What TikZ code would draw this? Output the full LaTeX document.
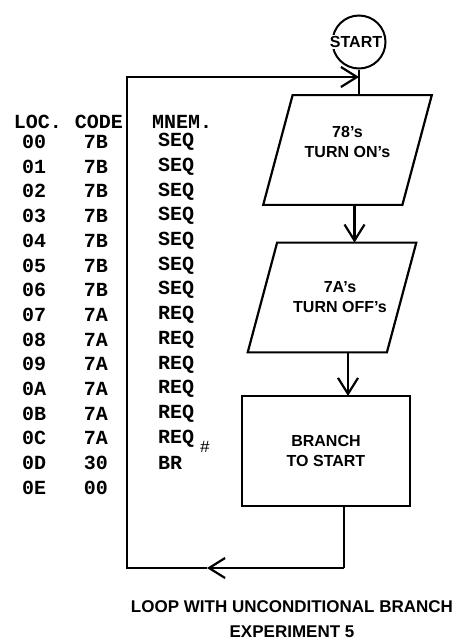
\documentclass[tikz,border=0pt]{standalone}
\usepackage{fontspec}
\setmainfont{Liberation Sans}
\newfontfamily\typewriter{Liberation Mono}
\usetikzlibrary{shapes.geometric,arrows.meta,positioning}

\tikzset{
  line/.style={line width=2.2pt},
  flow/.style={line width=2.2pt,-{Straight Barb[length=16pt,width=20pt]}},
  lbl/.style={font=\bfseries\fontsize{16}{20}\selectfont,align=center},
  startnode/.style={draw,circle,line width=2pt,minimum size=53pt,inner sep=0pt},
  para/.style={draw,line width=2.2pt,trapezium,trapezium left angle=75,
    trapezium right angle=105,minimum height=110pt,minimum width=169pt,
    inner sep=2pt,outer sep=0pt},
  stepbox/.style={draw,line width=2.2pt,minimum width=168pt,minimum height=110pt,
    inner sep=0pt,outer sep=0pt,lbl},
  tt/.style={font=\typewriter\bfseries\fontsize{20}{24}\selectfont,inner sep=0pt},
  caption/.style={font=\bfseries\fontsize{17}{20}\selectfont,inner sep=0pt}
}

\begin{document}
\begin{tikzpicture}[x=1pt,y=-1pt]
  \useasboundingbox (0,0) rectangle (458,642);

  % program listing
  \node[tt] (lochead) at (38,122) {LOC.};
  \node[tt] (codehead) at (99,122) {CODE};
  \node[tt,anchor=west] (mnemhead) at (152,122) {MNEM.};
  \foreach \loc/\code/\mnem [count=\i from 0] in {00/7B/SEQ,01/7B/SEQ,02/7B/SEQ,
      03/7B/SEQ,04/7B/SEQ,05/7B/SEQ,06/7B/SEQ,07/7A/REQ,08/7A/REQ,09/7A/REQ,
      0A/7A/REQ,0B/7A/REQ,0C/7A/REQ,0D/30/BR} {
    \node[tt,anchor=west] (loc\i) at (22,{142+24.7*\i}) {\loc};
    \node[tt] (code\i) at (96,{142+24.7*\i}) {\code};
    \node[tt,anchor=west] (mnem\i) at (158,{142+24.7*\i}) {\mnem};
  }
  \node[tt,anchor=west] (loc14) at (22,488) {0E};
  \node[tt] (code14) at (96,488) {00};
  \node[tt,font=\typewriter\fontsize{17}{18}\selectfont] (mark) at (205,447) {\#};

  % flowchart
  \node[startnode,label={[lbl,fill=white,inner sep=1pt,xshift=-3pt]center:START}] (start) at (359,42) {};
  \node[para,label={[lbl,yshift=8pt]center:{78's\\TURN ON's}}] (turnon) at (347.5,150) {};
  \node[para,label={[lbl,xshift=8pt]center:{7A's\\TURN OFF's}}] (turnoff) at (332,297.5) {};
  \node[stepbox] (branch) at (326,451) {BRANCH\\TO START};

  \coordinate (loopbr) at (344,568);
  \coordinate (loopmid) at (207,568);
  \coordinate (loopbl) at (127,568);
  \coordinate (looptl) at (127,77);

  \draw[line] (start) -- (start |- turnon.north);
  \draw[flow] ([xshift=7pt]turnon.south) -- ([xshift=7pt]turnon.south |- turnoff.north);
  \draw[flow] ([xshift=16pt]turnoff.south) -- ([xshift=16pt]turnoff.south |- branch.north);
  \draw[line] ([xshift=18pt]branch.south) -- (loopbr);
  \draw[flow] (loopbr) -- (loopmid);
  \draw[flow] (loopmid) -- (loopbl) -- (looptl) -- (looptl -| start);

  % caption
  \node[caption] (title) at (292,607) {LOOP WITH UNCONDITIONAL BRANCH};
  \node[caption] (expno) at (292,632) {EXPERIMENT 5};
\end{tikzpicture}
\end{document}
